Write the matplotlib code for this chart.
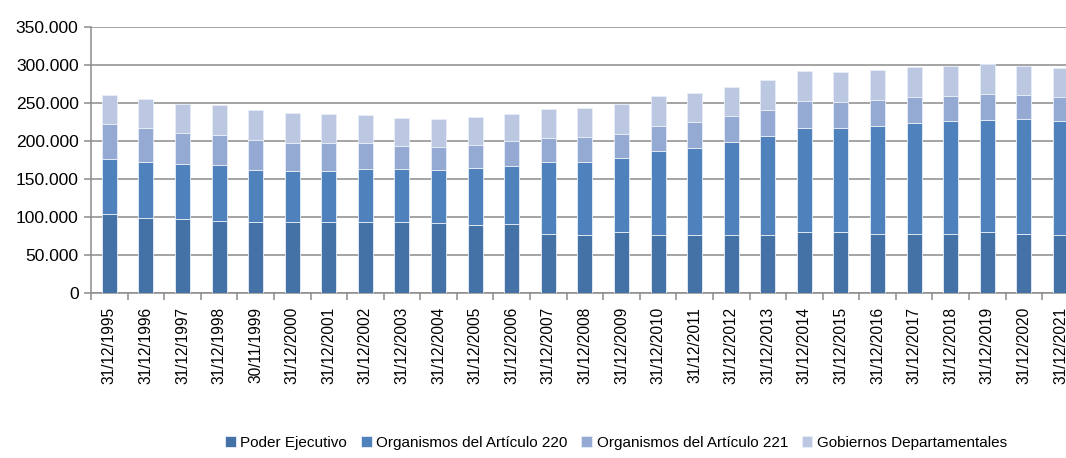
import matplotlib
matplotlib.use("Agg")
import matplotlib.pyplot as plt
from matplotlib.ticker import FuncFormatter, FixedLocator

# Categories (fechas de corte)
fechas = [
    "31/12/1995", "31/12/1996", "31/12/1997", "31/12/1998", "30/11/1999",
    "31/12/2000", "31/12/2001", "31/12/2002", "31/12/2003", "31/12/2004",
    "31/12/2005", "31/12/2006", "31/12/2007", "31/12/2008", "31/12/2009",
    "31/12/2010", "31/12/2011", "31/12/2012", "31/12/2013", "31/12/2014",
    "31/12/2015", "31/12/2016", "31/12/2017", "31/12/2018", "31/12/2019",
    "31/12/2020", "31/12/2021",
]

# Series values (vinculos)
poder_ejecutivo = [103700, 99300, 97100, 94500, 93200, 93200, 93200, 93200, 93200, 92300,
                   90100, 91400, 78200, 76900, 80100, 76900, 76900, 76100, 76900, 80500,
                   79600, 77400, 78200, 78200, 79600, 78200, 76900]
art_220 = [73000, 73500, 73100, 74300, 69100, 67000, 67800, 70000, 70000, 69600,
           74800, 76100, 94600, 95900, 97500, 110300, 114300, 122500, 130000, 136900,
           137800, 142200, 145000, 148000, 147900, 151000, 149700]
art_221 = [46000, 44600, 40200, 39400, 38600, 37100, 36300, 34600, 30600, 30200,
           30200, 32100, 31500, 32000, 31500, 32400, 33700, 34200, 33700, 35100,
           33700, 34200, 34500, 32800, 34200, 31100, 31100]
gob_dep = [38000, 37300, 38600, 38600, 39300, 39400, 37700, 35900, 36300, 37100,
           35900, 36200, 37300, 38100, 39000, 39000, 38500, 38400, 39800, 39800,
           39800, 39800, 39400, 40300, 40200, 39000, 38900]

series_names = ["Poder Ejecutivo", "Organismos del Artículo 220",
                "Organismos del Artículo 221", "Gobiernos Departamentales"]
colors = ["#4472A6", "#4F81BD", "#95AAD2", "#BCC8E1"]

plt.rcParams["font.family"] = ["Liberation Sans", "DejaVu Sans"]

fig = plt.figure(figsize=(10.66, 4.58), dpi=100)
ax = fig.add_axes([0.0854, 0.3603, 0.9266, 0.5807])

x = list(range(len(fechas)))
bottom = [0] * len(fechas)
for vals, name, col in zip([poder_ejecutivo, art_220, art_221, gob_dep], series_names, colors):
    ax.bar(x, vals, width=0.41, bottom=bottom, color=col, label=name,
           edgecolor="#e8eef7", linewidth=0.6, zorder=3)
    bottom = [b + v for b, v in zip(bottom, vals)]

ax.set_ylim(0, 350000)
ax.set_xlim(-0.5, len(fechas) - 0.5)
ax.set_yticks(range(0, 350001, 50000))
ax.yaxis.set_major_formatter(FuncFormatter(lambda v, p: f"{int(v):,}".replace(",", ".")))
ax.grid(axis="y", color="#8c8c8c", linewidth=1.1, zorder=0)

ax.set_xticks(x)
ax.set_xticklabels(fechas, rotation=90, fontsize=11.2)
ax.xaxis.set_minor_locator(FixedLocator([i - 0.5 for i in range(len(fechas) + 1)]))
ax.tick_params(axis="x", which="major", length=0, pad=10)
ax.tick_params(axis="x", which="minor", length=5, width=1.1, color="#8c8c8c")
ax.tick_params(axis="y", length=5, width=1.1, color="#8c8c8c", labelsize=12.6, pad=4)

for s in ["top", "right"]:
    ax.spines[s].set_visible(False)
for s in ["left", "bottom"]:
    ax.spines[s].set_color("#8c8c8c")
    ax.spines[s].set_linewidth(1.1)

fig.legend(loc="lower center", bbox_to_anchor=(0.578, -0.012), ncol=4, frameon=False,
           fontsize=11, handlelength=0.7, handleheight=0.7, handletextpad=0.3,
           columnspacing=0.9)

fig.savefig("out.png", dpi=100)
